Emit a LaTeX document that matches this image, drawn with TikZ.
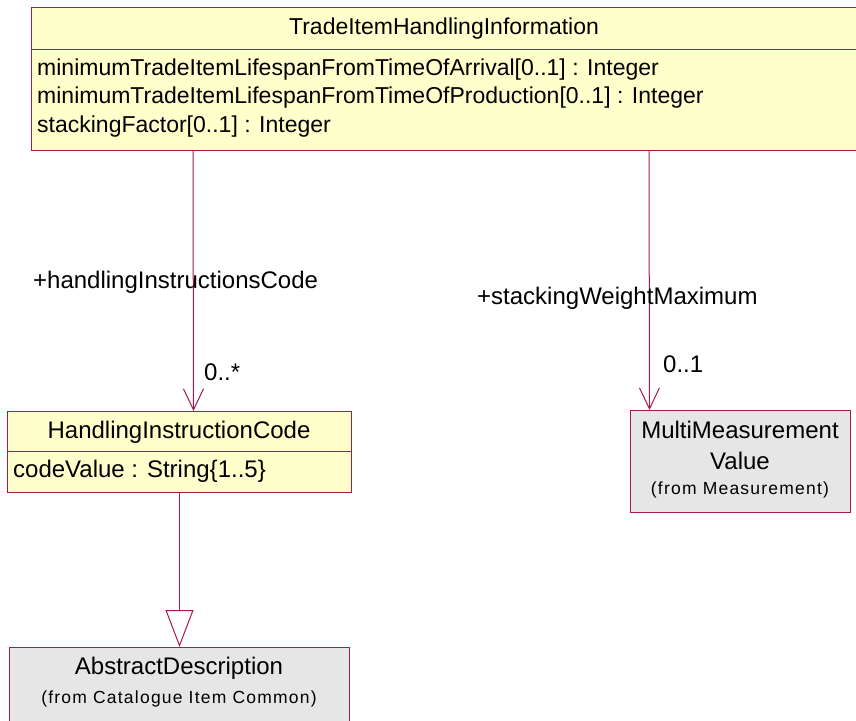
\documentclass[tikz,border=0pt]{standalone}
\usepackage{fontspec}
\setmainfont{Liberation Sans}
\newfontfamily\smallfont[LetterSpace=7]{Liberation Sans}
\usetikzlibrary{arrows.meta}

\definecolor{umlred}{RGB}{165,25,75}
\definecolor{umlyellow}{RGB}{255,255,204}
\definecolor{umlgray}{RGB}{230,230,230}

\begin{document}
\begin{tikzpicture}[x=1pt, y=-1pt,
   classbox/.style={draw=umlred, line width=1pt, anchor=north west, inner sep=0pt},
   ownclass/.style={classbox, fill=umlyellow},
   extclass/.style={classbox, fill=umlgray},
   toptext/.style={font=\fontsize{23}{28.5}\selectfont, inner sep=0pt},
   bigtext/.style={font=\fontsize{24}{28}\selectfont, inner sep=0pt},
   fromtext/.style={font=\smallfont\fontsize{17.5}{20}\selectfont, inner sep=0pt},
   assoc/.style={draw=umlred, line width=1pt, -{Straight Barb[length=21pt, width=20pt]}},
   inherit/.style={draw=umlred, line width=1pt, -{Triangle[open, length=37pt, width=28pt, fill=white]}}
]

   \useasboundingbox (0,0) rectangle (856,720);

   % TradeItemHandlingInformation
   \node[ownclass, minimum width=826, minimum height=143] (info) at (31,7) {};
   \draw[umlred, line width=1pt] ([yshift=-42pt]info.north west) -- ([yshift=-42pt]info.north east);
   \node[toptext] (infoname) at (444,29) {TradeItemHandlingInformation};
   \node[toptext, anchor=west, align=left] (infoattr) at (37,98)
      {minimumTradeItemLifespanFromTimeOfArrival[0..1] : Integer\\
       minimumTradeItemLifespanFromTimeOfProduction[0..1] : Integer\\
       stackingFactor[0..1] : Integer};

   % HandlingInstructionCode
   \node[ownclass, minimum width=344, minimum height=81] (hic) at (7,411) {};
   \draw[umlred, line width=1pt] ([yshift=-40pt]hic.north west) -- ([yshift=-40pt]hic.north east);
   \node[bigtext] (hicname) at (179,432) {HandlingInstructionCode};
   \node[bigtext, anchor=west] (hicattr) at (13,471) {codeValue : String\{1..5\}};

   % AbstractDescription
   \node[extclass, minimum width=340, minimum height=100] (abstr) at (9,647) {};
   \node[bigtext] (abstrname) at (179,668) {AbstractDescription};
   \node[fromtext] (abstrfrom) at (179,699) {(from Catalogue Item Common)};

   % MultiMeasurementValue
   \node[extclass, minimum width=220, minimum height=102] (mmv) at (630,410) {};
   \node[bigtext] (mmvname) at (740,430) {MultiMeasurement};
   \node[bigtext] (mmvname2) at (740,461) {Value};
   \node[fromtext] (mmvfrom) at (740,490) {(from Measurement)};

   % associations
   \draw[assoc] ([xshift=162pt]info.south west) -- ([xshift=14pt]hic.north);
   \draw[assoc] ([xshift=618pt]info.south west) -- ([xshift=-91pt]mmv.north);
   \draw[inherit] (hic.south) -- (abstr.north);

   \node[bigtext, anchor=west] (rolehandling) at (33,282) {+handlingInstructionsCode};
   \node[bigtext, anchor=west] (multhandling) at (204,372) {0..*};
   \node[bigtext, anchor=west] (rolestacking) at (477,298) {+stackingWeightMaximum};
   \node[bigtext, anchor=west] (multstacking) at (663,364) {0..1};

\end{tikzpicture}
\end{document}
